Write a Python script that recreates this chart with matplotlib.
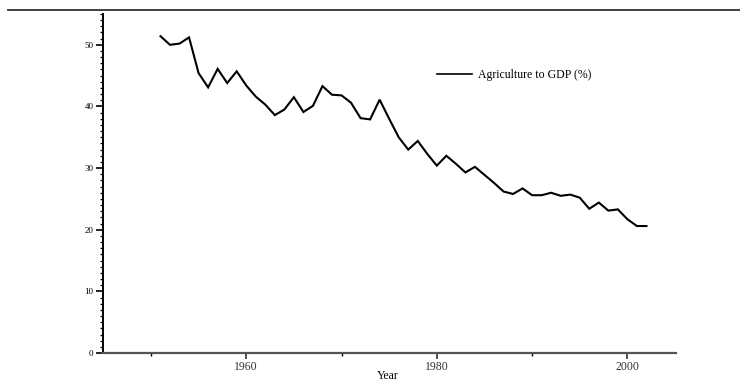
import matplotlib
matplotlib.use("Agg")
import matplotlib.pyplot as plt
from matplotlib.ticker import MultipleLocator, FixedLocator
from matplotlib.lines import Line2D

years = list(range(1951, 2003))
agri_gdp = [51.4, 50.0, 50.2, 51.2, 45.4, 43.1, 46.1, 43.8, 45.7, 43.4,
            41.6, 40.3, 38.6, 39.5, 41.5, 39.1, 40.1, 43.3, 41.9, 41.8,
            40.6, 38.1, 37.9, 41.1, 38.0, 35.0, 33.0, 34.4, 32.3, 30.4,
            32.0, 30.7, 29.3, 30.2, 28.9, 27.6, 26.2, 25.8, 26.7, 25.6,
            25.6, 26.0, 25.5, 25.7, 25.2, 23.4, 24.4, 23.1, 23.3, 21.7,
            20.6, 20.6]
x_major = [1960, 1980, 2000]
x_minor = [1950, 1970, 1990]
y_major = [0, 10, 20, 30, 40, 50]
series_label = "Agriculture to GDP (%)"

serif = ["Liberation Serif", "DejaVu Serif"]

W, H = 740, 381
fig = plt.figure(figsize=(7.4, 3.81), dpi=100)
ax = fig.add_axes([103.3 / W, 1 - 353 / H, (676 - 103.3) / W, (353 - 14) / H])

ax.plot(years, agri_gdp, color="black", lw=1.5, solid_joinstyle="miter")

ax.set_xlim(1945, 2005.1)
ax.set_ylim(0, 55)

for s in ["top", "right"]:
    ax.spines[s].set_visible(False)
ax.spines["left"].set_color("black")
ax.spines["left"].set_linewidth(1.4)
ax.spines["bottom"].set_color("#555555")
ax.spines["bottom"].set_linewidth(1.6)

ax.xaxis.set_major_locator(FixedLocator(x_major))
ax.xaxis.set_minor_locator(FixedLocator(x_minor))
ax.yaxis.set_major_locator(FixedLocator(y_major))
ax.yaxis.set_minor_locator(MultipleLocator(1))

ax.tick_params(axis="y", which="major", length=5, width=1.2, direction="out",
               pad=2, labelsize=6.5)
ax.tick_params(axis="y", which="minor", length=2, width=0.9, direction="out")
ax.tick_params(axis="x", which="major", length=4, width=1.2, direction="out",
               pad=2, labelsize=8.5, colors="#333333")
ax.tick_params(axis="x", which="minor", length=2, width=1.0, direction="out")

for lab in ax.get_xticklabels() + ax.get_yticklabels():
    lab.set_family(serif)

fig.text(388 / W, 1 - 370 / H, "Year", family=serif, fontsize=8.5,
         ha="center", va="top")

handle = Line2D([], [], color="black", lw=1.2)
leg = ax.legend([handle], [series_label], loc="upper left",
                bbox_to_anchor=((437 - 103.3) / (676 - 103.3), 1 - (69 - 14) / (353 - 14)),
                frameon=False, handlelength=3.0, handletextpad=0.5,
                borderpad=0, borderaxespad=0,
                prop={"family": serif, "size": 8.5})

# top rule of the page
fig.add_artist(Line2D([8 / W, 1], [1 - 10 / H, 1 - 10 / H],
                      transform=fig.transFigure, color="#333333", lw=1.3))

fig.savefig("out.png", dpi=100)
